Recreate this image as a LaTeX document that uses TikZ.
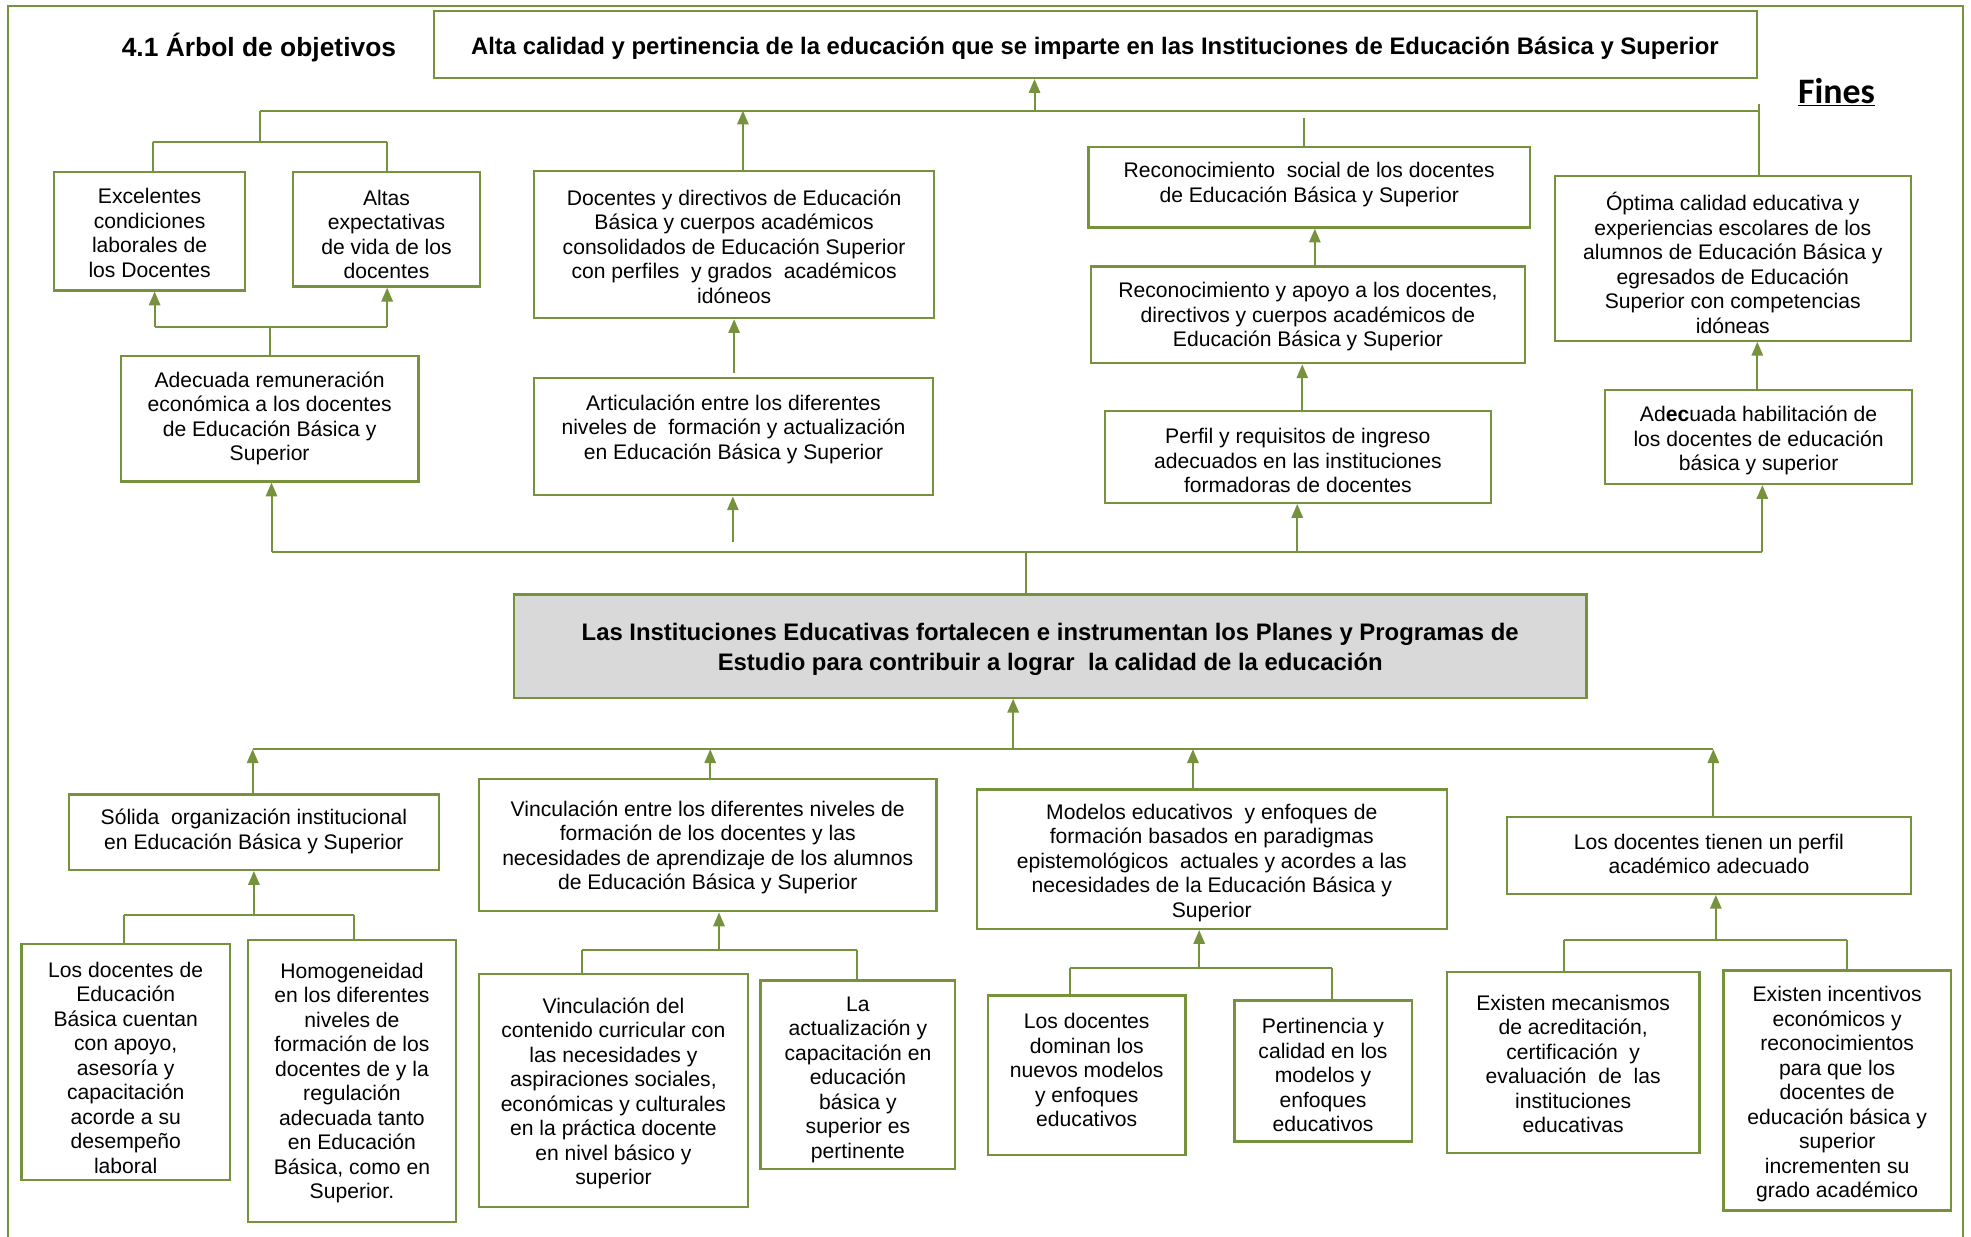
\documentclass[tikz,border=0pt]{standalone}
\usepackage{fontspec}
\setmainfont{Liberation Sans}
\newfontfamily\finesfont{Carlito}
\usetikzlibrary{arrows.meta,fit}
\definecolor{tgreen}{RGB}{118,146,60}
\definecolor{cgray}{RGB}{217,217,217}
\tikzset{
  box/.style={draw=tgreen, line width=1.8pt, inner sep=0pt},
  txt/.style={align=center, inner sep=0pt, font=\fontsize{16.8}{19.5}\selectfont},
  btxt/.style={align=center, inner sep=0pt, font=\bfseries\fontsize{19}{23.5}\selectfont},
  conn/.style={draw=tgreen, line width=1.6pt},
  arr/.style={conn, -{Triangle[length=11pt,width=9pt]}},
}
\newcommand\objbox[7][0]{%
  \node[box, fit={(#3,#4)(#5,#6)}] (#2) {};
  \begin{scope}
    \clip (#3,#4) rectangle (#5,#6);
    \node[txt] (#2t) at ([yshift=#1pt, yshift=-1.5pt]#2.center) {#7};
  \end{scope}
}
\begin{document}
\begin{tikzpicture}[x=1pt,y=-1pt]
\useasboundingbox (0,0) rectangle (1568,984);
\draw[conn] (6,984) -- (6,5) -- (1562,5) -- (1562,984);

% titles
\node[box, fit={(345,9)(1398,62)}] (goal) {};
\node[btxt, anchor=base] (goalt) at (871,43) {Alta calidad y pertinencia de la educación que se imparte en las Instituciones de Educación Básica y Superior};
\node[anchor=base, inner sep=0pt, font=\bfseries\fontsize{21}{25}\selectfont] (tit) at (206,45) {4.1 Árbol de objetivos};
\node[anchor=base, inner sep=0pt, font=\finesfont\bfseries\fontsize{28.5}{30}\selectfont] (fines) at (1461,82) {\underline{Fines}};

% row 1
\objbox{excel}{43}{137}{195}{231}{Excelentes\\condiciones\\laborales de\\los Docentes}
\objbox[-2.5]{altas}{233}{137}{382}{228}{Altas\\expectativas\\de vida de los\\docentes}
\objbox{docdir}{425}{136}{743}{253}{Docentes y directivos de Educación\\Básica y cuerpos académicos\\consolidados de Educación Superior\\con perfiles~ y grados~ académicos\\idóneos}
\objbox[3.5]{recsoc}{866}{117}{1217}{181}{Reconocimiento~ social de los docentes\\de Educación Básica y Superior}
\objbox[-2]{optima}{1237}{140}{1520}{271}{Óptima calidad educativa y\\experiencias escolares de los\\alumnos de Educación Básica y\\egresados de Educación\\Superior con competencias\\idóneas}

% row 2
\objbox[1.5]{remun}{96}{283}{333}{383}{Adecuada remuneración\\económica a los docentes\\de Educación Básica y\\Superior}
\objbox[7.5]{artic}{425}{301}{742}{394}{Articulación entre los diferentes\\niveles de~ formación y actualización\\en Educación Básica y Superior}
\objbox{recapo}{868}{212}{1213}{289}{Reconocimiento y apoyo a los docentes,\\directivos y cuerpos académicos de\\Educación Básica y Superior}
\objbox[-1.5]{perfil}{879}{327}{1186}{400}{Perfil y requisitos de ingreso\\adecuados en las instituciones\\formadoras de docentes}
\objbox[-1.5]{habil}{1277}{310}{1521}{385}{Ad{\bfseries ec}uada habilitación de\\los docentes de educación\\básica y superior}

% central
\node[box, fill=cgray, fit={(409,473)(1262,555)}] (central) {};
\node[btxt] (centralt) at (835.5,516.5) {Las Instituciones Educativas fortalecen e instrumentan los Planes y Programas de\\Estudio para contribuir a lograr~ la calidad de la educación};

% row 3
\objbox[2]{solida}{55}{632}{349}{692}{Sólida~ organización institucional\\en Educación Básica y Superior}
\objbox{vincE}{381}{620}{745}{725}{Vinculación entre los diferentes niveles de\\formación de los docentes y las\\necesidades de aprendizaje de los alumnos\\de Educación Básica y Superior}
\objbox[-1.5]{modelos}{777}{628}{1151}{739}{Modelos educativos~ y enfoques de\\formación basados en paradigmas\\epistemológicos~ actuales y acordes a las\\necesidades de la Educación Básica y\\Superior}
\objbox[2.5]{perfilac}{1199}{650}{1520}{711}{Los docentes tienen un perfil\\académico adecuado}

% row 4
\objbox[-3]{ldedu}{17}{751}{183}{939}{Los docentes de\\Educación\\Básica cuentan\\con apoyo,\\asesoría y\\capacitación\\acorde a su\\desempeño\\laboral}
\objbox{homog}{197}{748}{363}{972}{Homogeneidad\\en los diferentes\\niveles de\\formación de los\\docentes de y la\\regulación\\adecuada tanto\\en Educación\\Básica, como en\\Superior.}
\objbox[-1]{vincD}{381}{775}{595}{960}{Vinculación del\\contenido curricular con\\las necesidades y\\aspiraciones sociales,\\económicas y culturales\\en la práctica docente\\en nivel básico y\\superior}
\objbox[-2.5]{actual}{605}{780}{760}{930}{La\\actualización y\\capacitación en\\educación\\básica y\\superior es\\pertinente}
\objbox[5.5]{dominan}{786}{792}{943}{919}{Los docentes\\dominan los\\nuevos modelos\\y enfoques\\educativos}
\objbox[-2]{pertin}{982}{796}{1123}{908}{Pertinencia y\\calidad en los\\modelos y\\enfoques\\educativos}
\objbox{mecan}{1151}{773}{1352}{917}{Existen mecanismos\\de acreditación,\\certificación~ y\\evaluación~ de~ las\\instituciones\\educativas}
\objbox[-1.5]{incent}{1371}{772}{1552}{963}{Existen incentivos\\económicos y\\reconocimientos\\para que los\\docentes de\\educación básica y\\superior\\incrementen su\\grado académico}

% ---- connectors: top level
\coordinate (h1L) at (207,88);
\coordinate (h1R) at (1399,88);
\draw[conn] (h1L) -- (h1R);
\coordinate (a1) at (823,88);
\draw[arr] (a1) -- (a1 |- goal.south);
\coordinate (b1) at (207,113);
\coordinate (b1l) at (122,113);
\coordinate (b1r) at (308,113);
\draw[conn] (h1L) -- (b1);
\draw[conn] (b1l) -- (b1r);
\draw[conn] (b1l) -- (b1l |- excel.north);
\draw[conn] (b1r) -- (b1r |- altas.north);
\coordinate (a2) at (591,88);
\draw[arr] (a2 |- docdir.north) -- (a2);
\coordinate (c1) at (1037,94);
\draw[conn] (c1) -- (c1 |- recsoc.north);
\coordinate (c2) at (1399,83);
\draw[conn] (c2) -- (c2 |- optima.north);

% row 2 -> row 1
\coordinate (b2) at (215,260);
\coordinate (b2l) at (123,260);
\coordinate (b2r) at (308,260);
\draw[conn] (b2 |- remun.north) -- (b2);
\draw[conn] (b2l) -- (b2r);
\draw[arr] (b2l) -- (b2l |- excel.south);
\draw[arr] (b2r) -- (b2r |- altas.south);
\coordinate (c3) at (584,297);
\draw[arr] (c3) -- (c3 |- docdir.south);
\coordinate (c4) at (1046,212);
\draw[arr] (c4 |- recapo.north) -- (c4 |- recsoc.south);
\coordinate (c5) at (1036,327);
\draw[arr] (c5 |- perfil.north) -- (c5 |- recapo.south);
\coordinate (c6) at (1398,310);
\draw[arr] (c6 |- habil.north) -- (c6 |- optima.south);

% central -> row 2
\coordinate (h2L) at (216,439);
\coordinate (h2R) at (1402,439);
\draw[conn] (h2L) -- (h2R);
\draw[arr] (h2L) -- (h2L |- remun.south);
\coordinate (c7) at (583,431);
\draw[arr] (c7) -- (c7 |- artic.south);
\coordinate (c8) at (1032,439);
\draw[arr] (c8) -- (c8 |- perfil.south);
\draw[arr] (h2R) -- (h2R |- habil.south);
\coordinate (c9) at (816,439);
\draw[conn] (c9) -- (c9 |- central.north);

% row 3 -> central
\coordinate (h3L) at (201,596);
\coordinate (h3R) at (1363,596);
\draw[conn] (h3L) -- (h3R);
\coordinate (d1) at (806,596);
\draw[arr] (d1) -- (d1 |- central.south);
\draw[arr] (h3L |- solida.north) -- (h3L);
\coordinate (d2) at (565,596);
\draw[arr] (d2 |- vincE.north) -- (d2);
\coordinate (d3) at (949,596);
\draw[arr] (d3 |- modelos.north) -- (d3);
\draw[arr] (h3R |- perfilac.north) -- (h3R);

% row 4 -> row 3
\coordinate (e1) at (202,728);
\coordinate (e1l) at (99,728);
\coordinate (e1r) at (282,728);
\draw[conn] (e1l) -- (e1r);
\draw[arr] (e1) -- (e1 |- solida.south);
\draw[conn] (e1l) -- (e1l |- ldedu.north);
\draw[conn] (e1r) -- (e1r |- homog.north);

\coordinate (e2) at (572,756);
\coordinate (e2l) at (463,756);
\coordinate (e2r) at (682,756);
\draw[conn] (e2l) -- (e2r);
\draw[arr] (e2) -- (e2 |- vincE.south);
\draw[conn] (e2l) -- (e2l |- vincD.north);
\draw[conn] (e2r) -- (e2r |- actual.north);

\coordinate (e3) at (954,770);
\coordinate (e3l) at (851,770);
\coordinate (e3r) at (1060,770);
\draw[conn] (e3l) -- (e3r);
\draw[arr] (e3) -- (e3 |- modelos.south);
\draw[conn] (e3l) -- (e3l |- dominan.north);
\draw[conn] (e3r) -- (e3r |- pertin.north);

\coordinate (e4) at (1365,748);
\coordinate (e4l) at (1244,748);
\coordinate (e4r) at (1469,748);
\draw[conn] (e4l) -- (e4r);
\draw[arr] (e4) -- (e4 |- perfilac.south);
\draw[conn] (e4l) -- (e4l |- mecan.north);
\draw[conn] (e4r) -- (e4r |- incent.north);
\end{tikzpicture}
\end{document}
